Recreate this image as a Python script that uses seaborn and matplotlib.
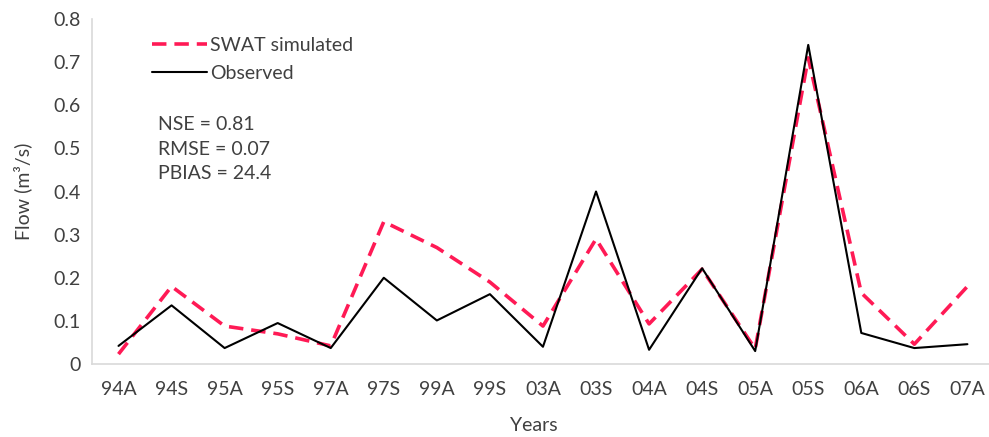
import matplotlib
matplotlib.use("Agg")
import matplotlib.pyplot as plt
import seaborn as sns
import pandas as pd

# Seasonal flow periods (A = autumn, S = spring)
periods = ["94A", "94S", "95A", "95S", "97A", "97S", "99A", "99S", "03A",
           "03S", "04A", "04S", "05A", "05S", "06A", "06S", "07A"]
simulated = [0.023, 0.18, 0.088, 0.070, 0.042, 0.33, 0.27, 0.19, 0.088,
             0.29, 0.093, 0.22, 0.035, 0.71, 0.165, 0.046, 0.18]
observed = [0.042, 0.136, 0.037, 0.095, 0.037, 0.200, 0.101, 0.162, 0.040,
            0.400, 0.033, 0.222, 0.030, 0.740, 0.072, 0.037, 0.046]
stats_lines = ["NSE = 0.81", "RMSE = 0.07", "PBIAS = 24.4"]

sns.set_theme(style="white")
plt.rcParams["font.family"] = ["Lato", "DejaVu Sans"]

text_color = "#404040"
fs = 14
df = pd.DataFrame({
    "period": periods * 2,
    "pos": list(range(len(periods))) * 2,
    "flow": simulated + observed,
    "series": ["SWAT simulated"] * len(periods) + ["Observed"] * len(periods),
})

fig = plt.figure(figsize=(9.89, 4.37), dpi=100)
ax = fig.add_axes([0.093, 0.167, 0.912, 0.7895])

sns.lineplot(data=df[df.series == "SWAT simulated"], x="pos", y="flow",
             ax=ax, color="#FF1A55", linewidth=2.6, dashes=False,
             label="SWAT simulated", sort=False)
ax.lines[-1].set_dashes([4, 2.2])
sns.lineplot(data=df[df.series == "Observed"], x="pos", y="flow",
             ax=ax, color="black", linewidth=1.5,
             label="Observed", sort=False)

ax.set_xlim(-0.5, len(periods) - 0.5)
ax.set_ylim(0, 0.8)
ax.set_xticks(range(len(periods)))
ax.set_xticklabels(periods)
ax.set_yticks([0, 0.1, 0.2, 0.3, 0.4, 0.5, 0.6, 0.7, 0.8])
ax.set_yticklabels(["0", "0.1", "0.2", "0.3", "0.4", "0.5", "0.6", "0.7", "0.8"])
ax.tick_params(axis="x", length=0, pad=12, labelsize=fs, labelcolor=text_color)
ax.tick_params(axis="y", length=0, pad=8, labelsize=fs, labelcolor=text_color)

for side in ["top", "right"]:
    ax.spines[side].set_visible(False)
for side in ["left", "bottom"]:
    ax.spines[side].set_color("#d9d9d9")
    ax.spines[side].set_linewidth(1.2)

ax.set_xlabel("Years", fontsize=fs, color=text_color)
ax.set_ylabel("Flow (m³/s)", fontsize=fs, color=text_color)
ax.xaxis.set_label_coords(0.49, -0.155)
ax.yaxis.set_label_coords(-0.066, 0.5)

leg = ax.legend(loc="upper left", bbox_to_anchor=(0.058, 0.97), frameon=False,
                fontsize=fs, handlelength=2.8, handletextpad=0.2,
                labelspacing=0.55, borderaxespad=0)
for t in leg.get_texts():
    t.set_color(text_color)

for i, s in enumerate(stats_lines):
    ax.text(0.073, 0.695 - i * 0.072, s, transform=ax.transAxes,
            fontsize=fs, color=text_color, va="center", ha="left")

fig.savefig("out.png", dpi=100)
